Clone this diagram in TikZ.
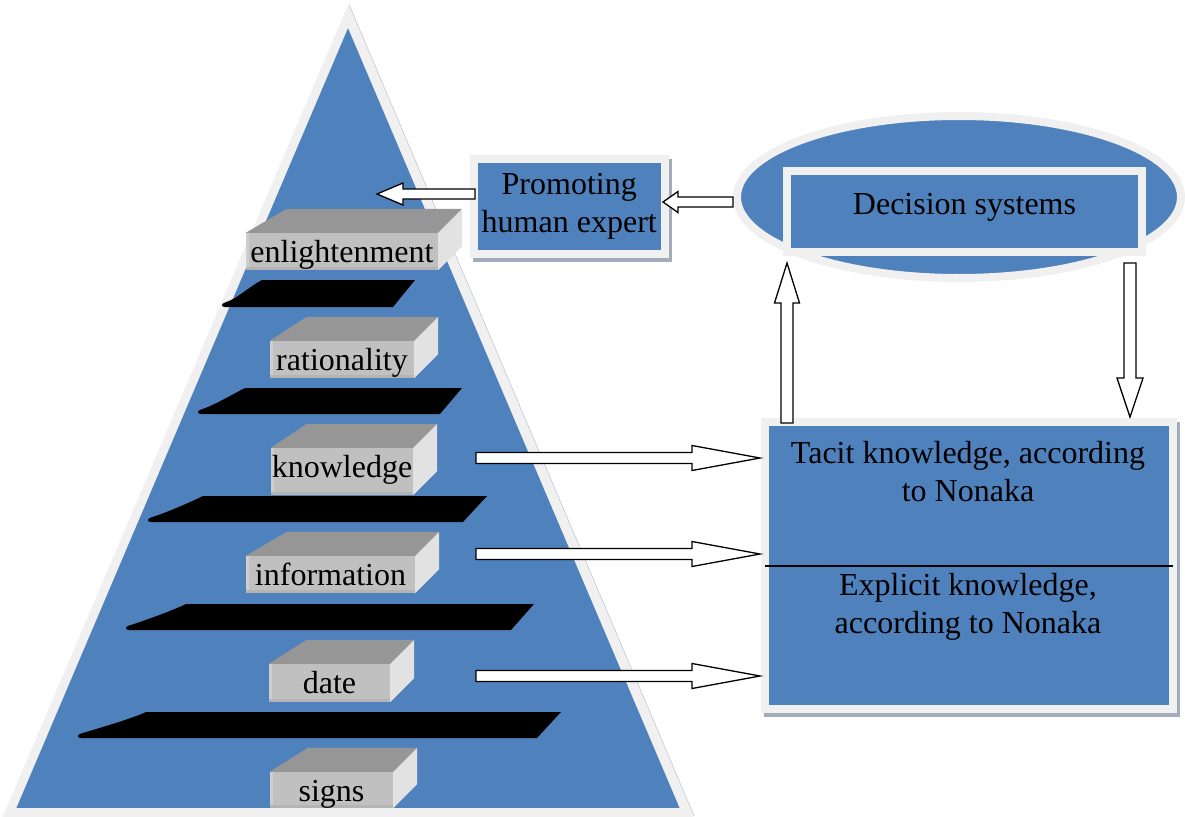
\documentclass[tikz,border=0pt]{standalone}
\usepackage{fontspec}
\setmainfont{Liberation Serif}
\usetikzlibrary{calc,shapes.geometric,shadows}

\definecolor{pyrblue}{HTML}{4F81BD}
\definecolor{rimgray}{HTML}{F0F0F0}
\definecolor{frontgray}{HTML}{C0C0C0}
\definecolor{frontdark}{HTML}{B4B4B4}
\definecolor{frontlight}{HTML}{CECECE}
\definecolor{topgray}{HTML}{969696}
\definecolor{sidegray}{HTML}{E2E2E2}
\definecolor{shadowgray}{HTML}{A4ACBB}
\definecolor{edgegray}{HTML}{C5CAD3}

\tikzset{
  rimbox/.style={draw=rimgray, line width=8pt, fill=pyrblue, inner sep=0pt},
  shadowed/.style={drop shadow={shadow xshift=3pt, shadow yshift=-4pt, fill=shadowgray, draw=shadowgray, line width=8pt, opacity=1}},
  frontface/.style={fill=frontgray, inner sep=0pt},
  topface/.style={fill=topgray},
  sideface/.style={fill=sidegray},
  arrowline/.style={draw=black, fill=white, line width=1.3pt, line join=miter},
  shelf/.style={fill=black},
}

% gray step with a label on its front face
% #1 name, #2 left x, #3 right x, #4 top y, #5 bottom y, #6 back-left shift, #7 text
\newcommand\stepblock[7]{%
  \node[frontface, minimum width={#3-#2}, minimum height={#5-#4}] (#1) at ({(#2+#3)/2},{(#4+#5)/2}) {};
  \fill[topface] (#1.north west) -- ++(#6,-24) -- ($(#1.north east)+(24,-24)$) -- (#1.north east) -- cycle;
  \fill[sideface] (#1.north east) -- ++(24,-24) -- ($(#1.south east)+(24,-24)$) -- (#1.south east) -- cycle;
  \fill[frontdark] ($(#1.south west)+(0,-3)$) rectangle (#1.south east);
  \fill[frontlight] (#1.north west) rectangle ($(#1.south west)+(3,-3)$);
  \node[anchor=base] (#1-text) at ($(#1.north)+(0,29.5)$) {#7};
}

% black shelf with a tapered left tail
% #1 top-left x, #2 top-right x, #3 top y, #4 tail tip x, #5 bottom-right x, #6 bottom y
\newcommand\shelfbar[6]{%
  \fill[shelf] (#1,#3) -- (#2,#3) -- (#5,#6) -- ({#4+3},#6)
    .. controls ({#4-1},#6) and ({#4-1},{#6-3.5}) .. ({#4+3},{#6-4.5})
    .. controls ({#4+15},{#6-8}) and ({#1-12},{#3+6}) .. (#1,#3) -- cycle;
}

% outlined block arrow from #1 to tip #2
% #3 shaft half width, #4 head half width, #5 head length
\newcommand\blockarrow[5]{%
  \coordinate (ba-h) at ($(#2)!#5pt!(#1)$);
  \draw[arrowline] ($(#1)!#3pt!90:(#2)$) -- ($(ba-h)!#3pt!90:(#2)$) -- ($(ba-h)!#4pt!90:(#2)$)
    -- (#2) -- ($(ba-h)!#4pt!-90:(#2)$) -- ($(ba-h)!#3pt!-90:(#2)$) -- ($(#1)!#3pt!-90:(#2)$) -- cycle;
}

\begin{document}
\begin{tikzpicture}[x=1pt, y=-1pt, font=\fontsize{32}{38}\selectfont, inner sep=0pt]
\useasboundingbox (0,0) rectangle (1185,816);

% pyramid with its light rim
\draw[draw=rimgray, line width=9pt, fill=pyrblue, line join=miter, miter limit=20]
  (348,16.4) -- (9.5,812.5) -- (686.5,812.5) -- cycle;
\draw[edgegray, line width=0.8pt] (349,4.8) -- (694,816);

% shelves between the levels
\shelfbar{262}{415}{280}{222}{393}{307}
\shelfbar{245}{462}{388}{198}{440}{414}
\shelfbar{203}{487}{496}{148}{463}{522}
\shelfbar{186}{534}{604}{126}{511}{630}
\shelfbar{146}{561}{712}{78}{537}{738}

% levels of the pyramid
\stepblock{enl}{246}{438}{233}{270}{41}{enlightenment}
\stepblock{rat}{270}{414}{341}{378}{37}{rationality}
\stepblock{kno}{271}{413}{448}{495}{36}{knowledge}
\stepblock{inf}{246}{415}{556}{593}{41}{information}
\stepblock{dat}{269}{390}{664}{702}{38}{date}
\stepblock{sig}{270}{393}{772}{808}{38}{signs}

% right-hand boxes
\node[rimbox, shadowed, minimum width=190.5, minimum height=95, align=center] (prom) at (569.25,206.5) {Promoting\\human expert};
\node[ellipse, draw=rimgray, line width=8pt, fill=pyrblue, minimum width=444, minimum height=162] (ell) at (959,197) {};
\node[rimbox, minimum width=355, minimum height=81] (dsys) at (964.5,211.5) {};
\node[anchor=base] (dsys-text) at ($(dsys.center)+(0,2.5)$) {Decision systems};

\node[rimbox, shadowed, minimum width=408, minimum height=287] (tk) at (969,565.5) {};
\draw[line width=1.5pt] ($(tk.west)+(4,0.5)$) -- ($(tk.east)+(-4,0.5)$);
\node[align=center] (tacit) at (968,472) {Tacit knowledge, according\\to Nonaka};
\node[align=center] (explicit) at (968,607) {Explicit knowledge,\\according to Nonaka};

% arrows
\coordinate (e2p-s) at ($(ell.west)+(0,5)$);
\coordinate (e2p-t) at ($(prom.east)+(-5.5,-4.5)$);
\blockarrow{e2p-s}{e2p-t}{5}{10.5}{15}

\coordinate (p2y-s) at ($(prom.west)+(5,-12.5)$);
\coordinate (pyr-in) at (377,194);
\blockarrow{p2y-s}{pyr-in}{5}{11}{26}

\coordinate (kn-out) at (476,458);
\coordinate (kn-in) at ($(tk.west |- kn-out)+(-1,0)$);
\blockarrow{kn-out}{kn-in}{5.5}{12.5}{68}

\coordinate (in-out) at (476,554);
\coordinate (in-in) at ($(tk.west |- in-out)+(-1,0)$);
\blockarrow{in-out}{in-in}{5.5}{12.5}{68}

\coordinate (da-out) at (476,676);
\coordinate (da-in) at ($(tk.west |- da-out)+(-1,0)$);
\blockarrow{da-out}{da-in}{5.5}{12.5}{68}

\coordinate (up-s) at ($(tk.north west)+(26,5)$);
\coordinate (up-t) at (787,263);
\blockarrow{up-s}{up-t}{6}{12.5}{40}

\coordinate (dn-s) at (1130,263);
\coordinate (dn-t) at ($(tk.north west)+(369,-1)$);
\blockarrow{dn-s}{dn-t}{6}{13}{39}
\end{tikzpicture}
\end{document}
